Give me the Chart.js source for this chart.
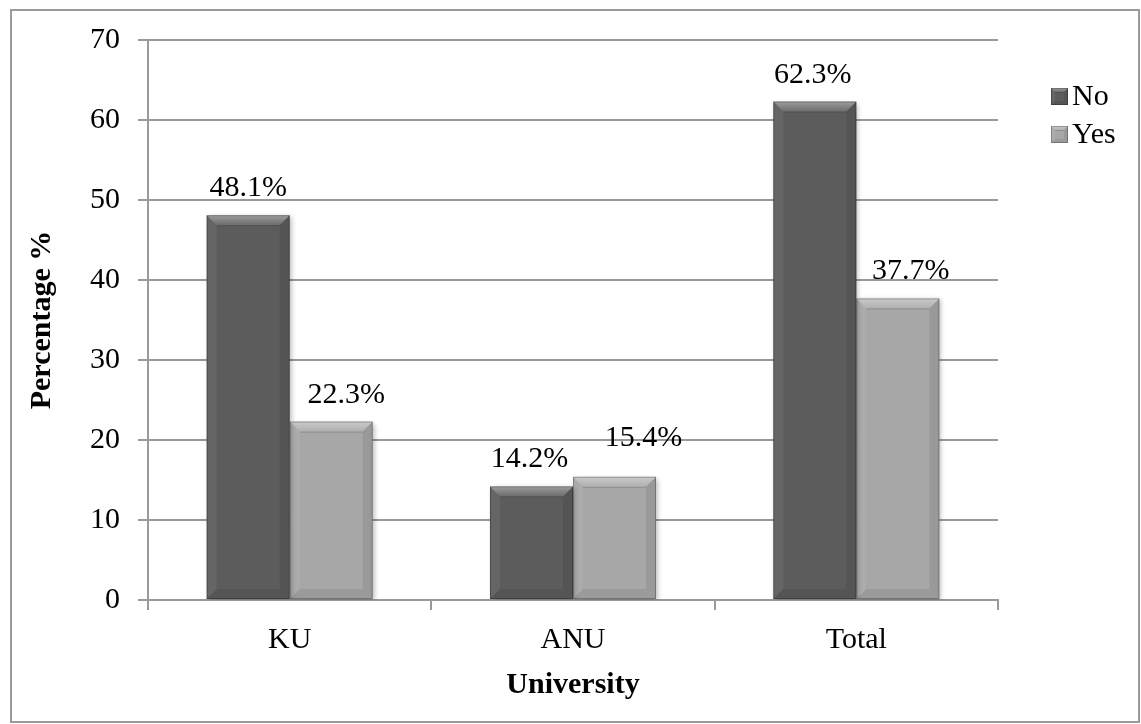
<!DOCTYPE html>
<html>
<head>
<meta charset="utf-8">
<title>Percentage by University</title>
<script src="https://cdn.jsdelivr.net/npm/chart.js@4/dist/chart.umd.min.js"></script>
<style>
  html, body { margin: 0; padding: 0; background: #ffffff; overflow: hidden; }
  #wrap { position: relative; width: 1141px; height: 724px; }
</style>
</head>
<body>
<div id="wrap"><canvas id="chart"></canvas></div>
<script>
// Universities on the x axis
const categories = ['KU', 'ANU', 'Total'];
// Share of respondents answering "No" / "Yes" (percent)
const noValues  = [48.1, 14.2, 62.3];
const yesValues = [22.3, 15.4, 37.7];
const seriesNames = ['No', 'Yes'];
// Y axis range
const yTicks = [0, 10, 20, 30, 40, 50, 60, 70];

const FONT = '"Liberation Serif", "Times New Roman", Times, serif';
const FACE = ['#5c5c5c', '#a7a7a7'];

// Small nudges so neighbouring value labels do not collide
const labelDx   = [[0, -2, -2], [15, 29, 13]];
const labelLift = [[0, 0, 0], [0, 12, 0]];

function bevel(ctx, L, T, R, B, b) {
  ctx.save();
  // top facet
  let g = ctx.createLinearGradient(0, T, 0, T + b);
  g.addColorStop(0, 'rgba(255,255,255,0.40)');
  g.addColorStop(1, 'rgba(255,255,255,0.10)');
  ctx.fillStyle = g;
  ctx.beginPath();
  ctx.moveTo(L, T); ctx.lineTo(R, T); ctx.lineTo(R - b, T + b); ctx.lineTo(L + b, T + b); ctx.closePath();
  ctx.fill();
  // left facet
  ctx.fillStyle = 'rgba(255,255,255,0.06)';
  ctx.beginPath();
  ctx.moveTo(L, T); ctx.lineTo(L + b, T + b); ctx.lineTo(L + b, B - b); ctx.lineTo(L, B); ctx.closePath();
  ctx.fill();
  // right facet
  ctx.fillStyle = 'rgba(0,0,0,0.08)';
  ctx.beginPath();
  ctx.moveTo(R, T); ctx.lineTo(R - b, T + b); ctx.lineTo(R - b, B - b); ctx.lineTo(R, B); ctx.closePath();
  ctx.fill();
  // bottom facet
  ctx.fillStyle = 'rgba(0,0,0,0.07)';
  ctx.beginPath();
  ctx.moveTo(L, B); ctx.lineTo(L + b, B - b); ctx.lineTo(R - b, B - b); ctx.lineTo(R, B); ctx.closePath();
  ctx.fill();
  // crease under the top facet
  ctx.strokeStyle = 'rgba(0,0,0,0.15)';
  ctx.lineWidth = 1;
  ctx.beginPath();
  ctx.moveTo(L + b, T + b + 0.5); ctx.lineTo(R - b, T + b + 0.5);
  ctx.stroke();
  // outline
  ctx.strokeStyle = 'rgba(0,0,0,0.25)';
  ctx.strokeRect(L + 0.5, T + 0.5, R - L - 1, B - T - 1);
  ctx.restore();
}

const framePlugin = {
  id: 'frame',
  beforeDraw(chart) {
    const ctx = chart.ctx;
    ctx.save();
    ctx.strokeStyle = '#9a9a9a';
    ctx.lineWidth = 2;
    ctx.strokeRect(11, 10, 1128, 712);
    ctx.restore();
  }
};

const shadowPlugin = {
  id: 'barShadow',
  beforeDatasetDraw(chart) {
    const ctx = chart.ctx;
    ctx.save();
    ctx.shadowColor = 'rgba(0,0,0,0.28)';
    ctx.shadowBlur = 5;
    ctx.shadowOffsetX = 2;
    ctx.shadowOffsetY = 2;
  },
  afterDatasetDraw(chart) {
    chart.ctx.restore();
  }
};

const bevelPlugin = {
  id: 'bevel',
  afterDatasetsDraw(chart) {
    const ctx = chart.ctx;
    chart.data.datasets.forEach((ds, i) => {
      chart.getDatasetMeta(i).data.forEach(bar => {
        const p = bar.getProps(['x', 'y', 'base', 'width'], true);
        const L = p.x - p.width / 2, R = p.x + p.width / 2;
        const T = Math.min(p.y, p.base), B = Math.max(p.y, p.base);
        bevel(ctx, L, T, R, B, Math.min(10, (B - T) / 2));
      });
    });
  }
};

const valueLabelPlugin = {
  id: 'valueLabels',
  afterDatasetsDraw(chart) {
    const ctx = chart.ctx;
    ctx.save();
    ctx.font = '30px ' + FONT;
    ctx.fillStyle = '#000';
    ctx.textAlign = 'center';
    ctx.textBaseline = 'alphabetic';
    chart.data.datasets.forEach((ds, i) => {
      chart.getDatasetMeta(i).data.forEach((bar, j) => {
        const text = ds.data[j].toFixed(1) + '%';
        ctx.fillText(text, bar.x + labelDx[i][j], bar.y - 19 - labelLift[i][j]);
      });
    });
    ctx.restore();
  }
};

const legendPlugin = {
  id: 'sideLegend',
  afterDraw(chart) {
    const ctx = chart.ctx;
    ctx.save();
    ctx.font = '30px ' + FONT;
    ctx.textBaseline = 'middle';
    ctx.textAlign = 'left';
    chart.data.datasets.forEach((ds, i) => {
      const cy = 96 + i * 38;
      const L = 1051, T = cy - 8, S = 17;
      ctx.fillStyle = ds.backgroundColor;
      ctx.fillRect(L, T, S, S);
      bevel(ctx, L, T, L + S, T + S, 4);
      ctx.fillStyle = '#000';
      ctx.fillText(ds.label, 1072, cy + 1);
    });
    ctx.restore();
  }
};

new Chart(document.getElementById('chart'), {
  type: 'bar',
  data: {
    labels: categories,
    datasets: [
      { label: seriesNames[0], data: noValues, backgroundColor: FACE[0], borderWidth: 0 },
      { label: seriesNames[1], data: yesValues, backgroundColor: FACE[1], borderWidth: 0 }
    ]
  },
  options: {
    responsive: true,
    maintainAspectRatio: false,
    animation: false,
    events: [],
    layout: { padding: { left: 10, top: 40, right: 143, bottom: 10 } },
    datasets: { bar: { categoryPercentage: 0.586, barPercentage: 1.0 } },
    plugins: {
      legend: { display: false },
      tooltip: { enabled: false }
    },
    scales: {
      x: {
        afterFit(scale) { scale.height = 114; },
        grid: {
          display: true,
          drawOnChartArea: false,
          drawTicks: true,
          tickLength: 10,
          color: '#999',
          lineWidth: 2,
          offset: true
        },
        border: { display: true, color: '#999', width: 2 },
        ticks: { color: '#000', font: { family: FONT, size: 30 }, padding: 12 },
        title: {
          display: true,
          text: 'University',
          color: '#000',
          font: { family: FONT, size: 30, weight: 'bold' },
          padding: { top: 0, bottom: 11 }
        }
      },
      y: {
        min: yTicks[0],
        max: yTicks[yTicks.length - 1],
        afterFit(scale) { scale.width = 138; },
        afterBuildTicks(scale) { scale.ticks = yTicks.map(v => ({ value: v })); },
        grid: { color: '#999', lineWidth: 2, tickLength: 10 },
        border: { display: true, color: '#999', width: 2 },
        ticks: { color: '#000', font: { family: FONT, size: 30 }, padding: 18 },
        title: {
          display: true,
          text: 'Percentage %',
          color: '#000',
          font: { family: FONT, size: 30, weight: 'bold' },
          padding: { top: 14, bottom: 0 }
        }
      }
    }
  },
  plugins: [framePlugin, shadowPlugin, bevelPlugin, valueLabelPlugin, legendPlugin]
});
</script>
</body>
</html>
